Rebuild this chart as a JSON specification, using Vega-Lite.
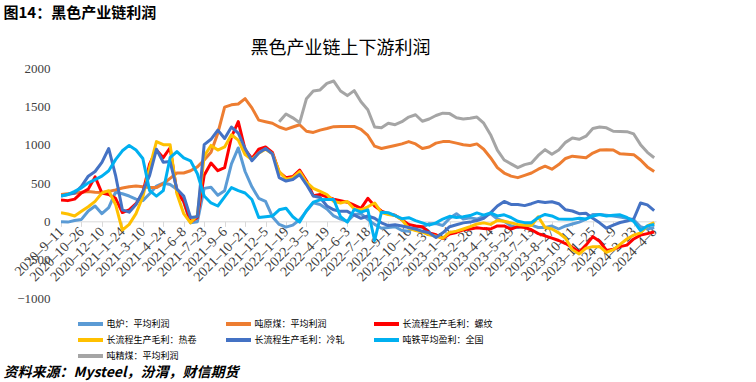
{
"$schema":"https://vega.github.io/schema/vega-lite/v6.json",
"width":595,"height":230,
"autosize":{"type":"none"},
"padding":{"left":61,"top":68,"right":100,"bottom":84},
"background":"white",
"config":{"view":{"stroke":null}},
"title":{"text":"黑色产业链上下游利润","font":"Noto Sans CJK SC","fontSize":18,"fontWeight":"normal","color":"#000000","anchor":"middle","dx":-18,"dy":67,"offset":14},
"data":{"values":[
{"d":"2020-09-11","s":"电炉：平均利润","v":-5},{"d":"2020-09-26","s":"电炉：平均利润","v":-10},{"d":"2020-10-11","s":"电炉：平均利润","v":10},{"d":"2020-10-26","s":"电炉：平均利润","v":25},{"d":"2020-11-10","s":"电炉：平均利润","v":134},{"d":"2020-11-25","s":"电炉：平均利润","v":200},{"d":"2020-12-10","s":"电炉：平均利润","v":100},{"d":"2020-12-25","s":"电炉：平均利润","v":180},{"d":"2021-01-09","s":"电炉：平均利润","v":380},{"d":"2021-01-24","s":"电炉：平均利润","v":360},
{"d":"2021-02-08","s":"电炉：平均利润","v":330},{"d":"2021-02-23","s":"电炉：平均利润","v":290},{"d":"2021-03-10","s":"电炉：平均利润","v":270},{"d":"2021-03-25","s":"电炉：平均利润","v":360},{"d":"2021-04-09","s":"电炉：平均利润","v":460},{"d":"2021-04-24","s":"电炉：平均利润","v":500},{"d":"2021-05-09","s":"电炉：平均利润","v":480},{"d":"2021-05-24","s":"电炉：平均利润","v":420},{"d":"2021-06-08","s":"电炉：平均利润","v":250},{"d":"2021-06-23","s":"电炉：平均利润","v":-20},
{"d":"2021-07-08","s":"电炉：平均利润","v":-5},{"d":"2021-07-23","s":"电炉：平均利润","v":430},{"d":"2021-08-07","s":"电炉：平均利润","v":445},{"d":"2021-08-22","s":"电炉：平均利润","v":340},{"d":"2021-09-06","s":"电炉：平均利润","v":400},{"d":"2021-09-21","s":"电炉：平均利润","v":750},{"d":"2021-10-06","s":"电炉：平均利润","v":957},{"d":"2021-10-21","s":"电炉：平均利润","v":650},{"d":"2021-11-05","s":"电炉：平均利润","v":450},{"d":"2021-11-20","s":"电炉：平均利润","v":300},
{"d":"2021-12-05","s":"电炉：平均利润","v":260},{"d":"2021-12-20","s":"电炉：平均利润","v":60},{"d":"2022-01-04","s":"电炉：平均利润","v":-40},{"d":"2022-01-19","s":"电炉：平均利润","v":-75},{"d":"2022-02-03","s":"电炉：平均利润","v":-50},{"d":"2022-02-18","s":"电炉：平均利润","v":20},{"d":"2022-03-05","s":"电炉：平均利润","v":134},{"d":"2022-03-20","s":"电炉：平均利润","v":242},{"d":"2022-04-04","s":"电炉：平均利润","v":220},{"d":"2022-04-19","s":"电炉：平均利润","v":160},
{"d":"2022-05-04","s":"电炉：平均利润","v":70},{"d":"2022-05-19","s":"电炉：平均利润","v":30},{"d":"2022-06-03","s":"电炉：平均利润","v":0},{"d":"2022-06-18","s":"电炉：平均利润","v":90},{"d":"2022-07-03","s":"电炉：平均利润","v":100},{"d":"2022-07-18","s":"电炉：平均利润","v":26},{"d":"2022-08-02","s":"电炉：平均利润","v":-40},{"d":"2022-08-17","s":"电炉：平均利润","v":-90},{"d":"2022-09-01","s":"电炉：平均利润","v":-80},{"d":"2022-09-16","s":"电炉：平均利润","v":-70},
{"d":"2022-10-01","s":"电炉：平均利润","v":-120},{"d":"2022-10-16","s":"电炉：平均利润","v":-130},{"d":"2022-10-31","s":"电炉：平均利润","v":-65},{"d":"2022-11-15","s":"电炉：平均利润","v":-80},{"d":"2022-11-30","s":"电炉：平均利润","v":-30},{"d":"2022-12-15","s":"电炉：平均利润","v":-30},{"d":"2022-12-30","s":"电炉：平均利润","v":-55},{"d":"2023-01-14","s":"电炉：平均利润","v":40},{"d":"2023-01-29","s":"电炉：平均利润","v":100},{"d":"2023-02-13","s":"电炉：平均利润","v":30},
{"d":"2023-02-28","s":"电炉：平均利润","v":45},{"d":"2023-03-15","s":"电炉：平均利润","v":30},{"d":"2023-03-30","s":"电炉：平均利润","v":65},{"d":"2023-04-14","s":"电炉：平均利润","v":100},{"d":"2023-04-29","s":"电炉：平均利润","v":30},{"d":"2023-05-14","s":"电炉：平均利润","v":0},{"d":"2023-05-29","s":"电炉：平均利润","v":-60},{"d":"2023-06-13","s":"电炉：平均利润","v":-80},{"d":"2023-06-28","s":"电炉：平均利润","v":-50},{"d":"2023-07-13","s":"电炉：平均利润","v":-50},
{"d":"2023-07-28","s":"电炉：平均利润","v":-80},{"d":"2023-08-12","s":"电炉：平均利润","v":-80},{"d":"2023-08-27","s":"电炉：平均利润","v":-61},{"d":"2023-09-11","s":"电炉：平均利润","v":-100},{"d":"2023-09-26","s":"电炉：平均利润","v":-60},{"d":"2023-10-11","s":"电炉：平均利润","v":-35},{"d":"2023-10-26","s":"电炉：平均利润","v":-10},{"d":"2023-11-10","s":"电炉：平均利润","v":30},{"d":"2023-11-25","s":"电炉：平均利润","v":90},{"d":"2023-12-10","s":"电炉：平均利润","v":90},
{"d":"2023-12-25","s":"电炉：平均利润","v":80},{"d":"2024-01-09","s":"电炉：平均利润","v":69},{"d":"2024-01-24","s":"电炉：平均利润","v":55},{"d":"2024-02-08","s":"电炉：平均利润","v":40},{"d":"2024-02-23","s":"电炉：平均利润","v":20},{"d":"2024-03-09","s":"电炉：平均利润","v":-70},{"d":"2024-03-24","s":"电炉：平均利润","v":-100},{"d":"2024-04-08","s":"电炉：平均利润","v":-80},

{"d":"2020-09-11","s":"吨原煤：平均利润","v":350},{"d":"2020-09-26","s":"吨原煤：平均利润","v":360},{"d":"2020-10-11","s":"吨原煤：平均利润","v":365},{"d":"2020-10-26","s":"吨原煤：平均利润","v":380},{"d":"2020-11-10","s":"吨原煤：平均利润","v":390},{"d":"2020-11-25","s":"吨原煤：平均利润","v":380},{"d":"2020-12-10","s":"吨原煤：平均利润","v":375},{"d":"2020-12-25","s":"吨原煤：平均利润","v":390},{"d":"2021-01-09","s":"吨原煤：平均利润","v":410},{"d":"2021-01-24","s":"吨原煤：平均利润","v":435},
{"d":"2021-02-08","s":"吨原煤：平均利润","v":450},{"d":"2021-02-23","s":"吨原煤：平均利润","v":460},{"d":"2021-03-10","s":"吨原煤：平均利润","v":450},{"d":"2021-03-25","s":"吨原煤：平均利润","v":440},{"d":"2021-04-09","s":"吨原煤：平均利润","v":440},{"d":"2021-04-24","s":"吨原煤：平均利润","v":490},{"d":"2021-05-09","s":"吨原煤：平均利润","v":560},{"d":"2021-05-24","s":"吨原煤：平均利润","v":630},{"d":"2021-06-08","s":"吨原煤：平均利润","v":630},{"d":"2021-06-23","s":"吨原煤：平均利润","v":660},
{"d":"2021-07-08","s":"吨原煤：平均利润","v":710},{"d":"2021-07-23","s":"吨原煤：平均利润","v":800},{"d":"2021-08-07","s":"吨原煤：平均利润","v":900},{"d":"2021-08-22","s":"吨原煤：平均利润","v":1150},{"d":"2021-09-06","s":"吨原煤：平均利润","v":1490},{"d":"2021-09-21","s":"吨原煤：平均利润","v":1520},{"d":"2021-10-06","s":"吨原煤：平均利润","v":1530},{"d":"2021-10-21","s":"吨原煤：平均利润","v":1600},{"d":"2021-11-05","s":"吨原煤：平均利润","v":1480},{"d":"2021-11-20","s":"吨原煤：平均利润","v":1320},
{"d":"2021-12-05","s":"吨原煤：平均利润","v":1300},{"d":"2021-12-20","s":"吨原煤：平均利润","v":1280},{"d":"2022-01-04","s":"吨原煤：平均利润","v":1230},{"d":"2022-01-19","s":"吨原煤：平均利润","v":1200},{"d":"2022-02-03","s":"吨原煤：平均利润","v":1230},{"d":"2022-02-18","s":"吨原煤：平均利润","v":1260},{"d":"2022-03-05","s":"吨原煤：平均利润","v":1175},{"d":"2022-03-20","s":"吨原煤：平均利润","v":1160},{"d":"2022-04-04","s":"吨原煤：平均利润","v":1190},{"d":"2022-04-19","s":"吨原煤：平均利润","v":1210},
{"d":"2022-05-04","s":"吨原煤：平均利润","v":1235},{"d":"2022-05-19","s":"吨原煤：平均利润","v":1238},{"d":"2022-06-03","s":"吨原煤：平均利润","v":1238},{"d":"2022-06-18","s":"吨原煤：平均利润","v":1238},{"d":"2022-07-03","s":"吨原煤：平均利润","v":1200},{"d":"2022-07-18","s":"吨原煤：平均利润","v":1120},{"d":"2022-08-02","s":"吨原煤：平均利润","v":980},{"d":"2022-08-17","s":"吨原煤：平均利润","v":950},{"d":"2022-09-01","s":"吨原煤：平均利润","v":970},{"d":"2022-09-16","s":"吨原煤：平均利润","v":990},
{"d":"2022-10-01","s":"吨原煤：平均利润","v":1010},{"d":"2022-10-16","s":"吨原煤：平均利润","v":1040},{"d":"2022-10-31","s":"吨原煤：平均利润","v":1010},{"d":"2022-11-15","s":"吨原煤：平均利润","v":950},{"d":"2022-11-30","s":"吨原煤：平均利润","v":970},{"d":"2022-12-15","s":"吨原煤：平均利润","v":1020},{"d":"2022-12-30","s":"吨原煤：平均利润","v":1040},{"d":"2023-01-14","s":"吨原煤：平均利润","v":1040},{"d":"2023-01-29","s":"吨原煤：平均利润","v":1020},{"d":"2023-02-13","s":"吨原煤：平均利润","v":1000},
{"d":"2023-02-28","s":"吨原煤：平均利润","v":990},{"d":"2023-03-15","s":"吨原煤：平均利润","v":1010},{"d":"2023-03-30","s":"吨原煤：平均利润","v":940},{"d":"2023-04-14","s":"吨原煤：平均利润","v":830},{"d":"2023-04-29","s":"吨原煤：平均利润","v":700},{"d":"2023-05-14","s":"吨原煤：平均利润","v":630},{"d":"2023-05-29","s":"吨原煤：平均利润","v":590},{"d":"2023-06-13","s":"吨原煤：平均利润","v":570},{"d":"2023-06-28","s":"吨原煤：平均利润","v":600},{"d":"2023-07-13","s":"吨原煤：平均利润","v":630},
{"d":"2023-07-28","s":"吨原煤：平均利润","v":680},{"d":"2023-08-12","s":"吨原煤：平均利润","v":720},{"d":"2023-08-27","s":"吨原煤：平均利润","v":680},{"d":"2023-09-11","s":"吨原煤：平均利润","v":740},{"d":"2023-09-26","s":"吨原煤：平均利润","v":820},{"d":"2023-10-11","s":"吨原煤：平均利润","v":850},{"d":"2023-10-26","s":"吨原煤：平均利润","v":840},{"d":"2023-11-10","s":"吨原煤：平均利润","v":830},{"d":"2023-11-25","s":"吨原煤：平均利润","v":890},{"d":"2023-12-10","s":"吨原煤：平均利润","v":930},
{"d":"2023-12-25","s":"吨原煤：平均利润","v":935},{"d":"2024-01-09","s":"吨原煤：平均利润","v":930},{"d":"2024-01-24","s":"吨原煤：平均利润","v":880},{"d":"2024-02-08","s":"吨原煤：平均利润","v":875},{"d":"2024-02-23","s":"吨原煤：平均利润","v":870},{"d":"2024-03-09","s":"吨原煤：平均利润","v":800},{"d":"2024-03-24","s":"吨原煤：平均利润","v":710},{"d":"2024-04-08","s":"吨原煤：平均利润","v":650},

{"d":"2020-09-11","s":"长流程生产毛利：螺纹","v":280},{"d":"2020-09-26","s":"长流程生产毛利：螺纹","v":270},{"d":"2020-10-11","s":"长流程生产毛利：螺纹","v":290},{"d":"2020-10-26","s":"长流程生产毛利：螺纹","v":370},{"d":"2020-11-10","s":"长流程生产毛利：螺纹","v":420},{"d":"2020-11-25","s":"长流程生产毛利：螺纹","v":580},{"d":"2020-12-10","s":"长流程生产毛利：螺纹","v":370},{"d":"2020-12-25","s":"长流程生产毛利：螺纹","v":350},{"d":"2021-01-09","s":"长流程生产毛利：螺纹","v":300},{"d":"2021-01-24","s":"长流程生产毛利：螺纹","v":115},
{"d":"2021-02-08","s":"长流程生产毛利：螺纹","v":150},{"d":"2021-02-23","s":"长流程生产毛利：螺纹","v":230},{"d":"2021-03-10","s":"长流程生产毛利：螺纹","v":370},{"d":"2021-03-25","s":"长流程生产毛利：螺纹","v":750},{"d":"2021-04-09","s":"长流程生产毛利：螺纹","v":930},{"d":"2021-04-24","s":"长流程生产毛利：螺纹","v":830},{"d":"2021-05-09","s":"长流程生产毛利：螺纹","v":960},{"d":"2021-05-24","s":"长流程生产毛利：螺纹","v":380},{"d":"2021-06-08","s":"长流程生产毛利：螺纹","v":260},{"d":"2021-06-23","s":"长流程生产毛利：螺纹","v":-10},
{"d":"2021-07-08","s":"长流程生产毛利：螺纹","v":50},{"d":"2021-07-23","s":"长流程生产毛利：螺纹","v":600},{"d":"2021-08-07","s":"长流程生产毛利：螺纹","v":760},{"d":"2021-08-22","s":"长流程生产毛利：螺纹","v":660},{"d":"2021-09-06","s":"长流程生产毛利：螺纹","v":700},{"d":"2021-09-21","s":"长流程生产毛利：螺纹","v":1100},{"d":"2021-10-06","s":"长流程生产毛利：螺纹","v":1300},{"d":"2021-10-21","s":"长流程生产毛利：螺纹","v":935},{"d":"2021-11-05","s":"长流程生产毛利：螺纹","v":820},{"d":"2021-11-20","s":"长流程生产毛利：螺纹","v":940},
{"d":"2021-12-05","s":"长流程生产毛利：螺纹","v":970},{"d":"2021-12-20","s":"长流程生产毛利：螺纹","v":900},{"d":"2022-01-04","s":"长流程生产毛利：螺纹","v":640},{"d":"2022-01-19","s":"长流程生产毛利：螺纹","v":570},{"d":"2022-02-03","s":"长流程生产毛利：螺纹","v":585},{"d":"2022-02-18","s":"长流程生产毛利：螺纹","v":670},{"d":"2022-03-05","s":"长流程生产毛利：螺纹","v":530},{"d":"2022-03-20","s":"长流程生产毛利：螺纹","v":335},{"d":"2022-04-04","s":"长流程生产毛利：螺纹","v":350},{"d":"2022-04-19","s":"长流程生产毛利：螺纹","v":320},
{"d":"2022-05-04","s":"长流程生产毛利：螺纹","v":290},{"d":"2022-05-19","s":"长流程生产毛利：螺纹","v":270},{"d":"2022-06-03","s":"长流程生产毛利：螺纹","v":250},{"d":"2022-06-18","s":"长流程生产毛利：螺纹","v":210},{"d":"2022-07-03","s":"长流程生产毛利：螺纹","v":170},{"d":"2022-07-18","s":"长流程生产毛利：螺纹","v":300},{"d":"2022-08-02","s":"长流程生产毛利：螺纹","v":200},{"d":"2022-08-17","s":"长流程生产毛利：螺纹","v":134},{"d":"2022-09-01","s":"长流程生产毛利：螺纹","v":100},{"d":"2022-09-16","s":"长流程生产毛利：螺纹","v":80},
{"d":"2022-10-01","s":"长流程生产毛利：螺纹","v":20},{"d":"2022-10-16","s":"长流程生产毛利：螺纹","v":-40},{"d":"2022-10-31","s":"长流程生产毛利：螺纹","v":-61},{"d":"2022-11-15","s":"长流程生产毛利：螺纹","v":-70},{"d":"2022-11-30","s":"长流程生产毛利：螺纹","v":-150},{"d":"2022-12-15","s":"长流程生产毛利：螺纹","v":-175},{"d":"2022-12-30","s":"长流程生产毛利：螺纹","v":-225},{"d":"2023-01-14","s":"长流程生产毛利：螺纹","v":-165},{"d":"2023-01-29","s":"长流程生产毛利：螺纹","v":-145},{"d":"2023-02-13","s":"长流程生产毛利：螺纹","v":-110},
{"d":"2023-02-28","s":"长流程生产毛利：螺纹","v":-100},{"d":"2023-03-15","s":"长流程生产毛利：螺纹","v":-85},{"d":"2023-03-30","s":"长流程生产毛利：螺纹","v":-95},{"d":"2023-04-14","s":"长流程生产毛利：螺纹","v":-100},{"d":"2023-04-29","s":"长流程生产毛利：螺纹","v":-60},{"d":"2023-05-14","s":"长流程生产毛利：螺纹","v":-60},{"d":"2023-05-29","s":"长流程生产毛利：螺纹","v":-100},{"d":"2023-06-13","s":"长流程生产毛利：螺纹","v":-70},{"d":"2023-06-28","s":"长流程生产毛利：螺纹","v":-80},{"d":"2023-07-13","s":"长流程生产毛利：螺纹","v":-110},
{"d":"2023-07-28","s":"长流程生产毛利：螺纹","v":-160},{"d":"2023-08-12","s":"长流程生产毛利：螺纹","v":-190},{"d":"2023-08-27","s":"长流程生产毛利：螺纹","v":-220},{"d":"2023-09-11","s":"长流程生产毛利：螺纹","v":-250},{"d":"2023-09-26","s":"长流程生产毛利：螺纹","v":-290},{"d":"2023-10-11","s":"长流程生产毛利：螺纹","v":-340},{"d":"2023-10-26","s":"长流程生产毛利：螺纹","v":-400},{"d":"2023-11-10","s":"长流程生产毛利：螺纹","v":-310},{"d":"2023-11-25","s":"长流程生产毛利：螺纹","v":-200},{"d":"2023-12-10","s":"长流程生产毛利：螺纹","v":-260},
{"d":"2023-12-25","s":"长流程生产毛利：螺纹","v":-380},{"d":"2024-01-09","s":"长流程生产毛利：螺纹","v":-364},{"d":"2024-01-24","s":"长流程生产毛利：螺纹","v":-330},{"d":"2024-02-08","s":"长流程生产毛利：螺纹","v":-310},{"d":"2024-02-23","s":"长流程生产毛利：螺纹","v":-230},{"d":"2024-03-09","s":"长流程生产毛利：螺纹","v":-180},{"d":"2024-03-24","s":"长流程生产毛利：螺纹","v":-160},{"d":"2024-04-08","s":"长流程生产毛利：螺纹","v":-140},

{"d":"2020-09-11","s":"长流程生产毛利：热卷","v":112},{"d":"2020-09-26","s":"长流程生产毛利：热卷","v":95},{"d":"2020-10-11","s":"长流程生产毛利：热卷","v":70},{"d":"2020-10-26","s":"长流程生产毛利：热卷","v":130},{"d":"2020-11-10","s":"长流程生产毛利：热卷","v":190},{"d":"2020-11-25","s":"长流程生产毛利：热卷","v":260},{"d":"2020-12-10","s":"长流程生产毛利：热卷","v":370},{"d":"2020-12-25","s":"长流程生产毛利：热卷","v":400},{"d":"2021-01-09","s":"长流程生产毛利：热卷","v":220},{"d":"2021-01-24","s":"长流程生产毛利：热卷","v":-115},
{"d":"2021-02-08","s":"长流程生产毛利：热卷","v":-40},{"d":"2021-02-23","s":"长流程生产毛利：热卷","v":100},{"d":"2021-03-10","s":"长流程生产毛利：热卷","v":320},{"d":"2021-03-25","s":"长流程生产毛利：热卷","v":700},{"d":"2021-04-09","s":"长流程生产毛利：热卷","v":1040},{"d":"2021-04-24","s":"长流程生产毛利：热卷","v":1000},{"d":"2021-05-09","s":"长流程生产毛利：热卷","v":1000},{"d":"2021-05-24","s":"长流程生产毛利：热卷","v":360},{"d":"2021-06-08","s":"长流程生产毛利：热卷","v":100},{"d":"2021-06-23","s":"长流程生产毛利：热卷","v":-20},
{"d":"2021-07-08","s":"长流程生产毛利：热卷","v":80},{"d":"2021-07-23","s":"长流程生产毛利：热卷","v":850},{"d":"2021-08-07","s":"长流程生产毛利：热卷","v":990},{"d":"2021-08-22","s":"长流程生产毛利：热卷","v":930},{"d":"2021-09-06","s":"长流程生产毛利：热卷","v":970},{"d":"2021-09-21","s":"长流程生产毛利：热卷","v":1130},{"d":"2021-10-06","s":"长流程生产毛利：热卷","v":1060},{"d":"2021-10-21","s":"长流程生产毛利：热卷","v":870},{"d":"2021-11-05","s":"长流程生产毛利：热卷","v":805},{"d":"2021-11-20","s":"长流程生产毛利：热卷","v":890},
{"d":"2021-12-05","s":"长流程生产毛利：热卷","v":940},{"d":"2021-12-20","s":"长流程生产毛利：热卷","v":880},{"d":"2022-01-04","s":"长流程生产毛利：热卷","v":650},{"d":"2022-01-19","s":"长流程生产毛利：热卷","v":550},{"d":"2022-02-03","s":"长流程生产毛利：热卷","v":570},{"d":"2022-02-18","s":"长流程生产毛利：热卷","v":650},{"d":"2022-03-05","s":"长流程生产毛利：热卷","v":510},{"d":"2022-03-20","s":"长流程生产毛利：热卷","v":430},{"d":"2022-04-04","s":"长流程生产毛利：热卷","v":390},{"d":"2022-04-19","s":"长流程生产毛利：热卷","v":350},
{"d":"2022-05-04","s":"长流程生产毛利：热卷","v":260},{"d":"2022-05-19","s":"长流程生产毛利：热卷","v":240},{"d":"2022-06-03","s":"长流程生产毛利：热卷","v":260},{"d":"2022-06-18","s":"长流程生产毛利：热卷","v":160},{"d":"2022-07-03","s":"长流程生产毛利：热卷","v":150},{"d":"2022-07-18","s":"长流程生产毛利：热卷","v":190},{"d":"2022-08-02","s":"长流程生产毛利：热卷","v":240},{"d":"2022-08-17","s":"长流程生产毛利：热卷","v":115},{"d":"2022-09-01","s":"长流程生产毛利：热卷","v":90},{"d":"2022-09-16","s":"长流程生产毛利：热卷","v":75},
{"d":"2022-10-01","s":"长流程生产毛利：热卷","v":20},{"d":"2022-10-16","s":"长流程生产毛利：热卷","v":-90},{"d":"2022-10-31","s":"长流程生产毛利：热卷","v":-120},{"d":"2022-11-15","s":"长流程生产毛利：热卷","v":-140},{"d":"2022-11-30","s":"长流程生产毛利：热卷","v":-175},{"d":"2022-12-15","s":"长流程生产毛利：热卷","v":-195},{"d":"2022-12-30","s":"长流程生产毛利：热卷","v":-220},{"d":"2023-01-14","s":"长流程生产毛利：热卷","v":-145},{"d":"2023-01-29","s":"长流程生产毛利：热卷","v":-128},{"d":"2023-02-13","s":"长流程生产毛利：热卷","v":-100},
{"d":"2023-02-28","s":"长流程生产毛利：热卷","v":-70},{"d":"2023-03-15","s":"长流程生产毛利：热卷","v":-35},{"d":"2023-03-30","s":"长流程生产毛利：热卷","v":-20},{"d":"2023-04-14","s":"长流程生产毛利：热卷","v":-40},{"d":"2023-04-29","s":"长流程生产毛利：热卷","v":10},{"d":"2023-05-14","s":"长流程生产毛利：热卷","v":0},{"d":"2023-05-29","s":"长流程生产毛利：热卷","v":-20},{"d":"2023-06-13","s":"长流程生产毛利：热卷","v":-40},{"d":"2023-06-28","s":"长流程生产毛利：热卷","v":-50},{"d":"2023-07-13","s":"长流程生产毛利：热卷","v":-55},
{"d":"2023-07-28","s":"长流程生产毛利：热卷","v":60},{"d":"2023-08-12","s":"长流程生产毛利：热卷","v":-80},{"d":"2023-08-27","s":"长流程生产毛利：热卷","v":-100},{"d":"2023-09-11","s":"长流程生产毛利：热卷","v":-150},{"d":"2023-09-26","s":"长流程生产毛利：热卷","v":-220},{"d":"2023-10-11","s":"长流程生产毛利：热卷","v":-370},{"d":"2023-10-26","s":"长流程生产毛利：热卷","v":-425},{"d":"2023-11-10","s":"长流程生产毛利：热卷","v":-350},{"d":"2023-11-25","s":"长流程生产毛利：热卷","v":-330},{"d":"2023-12-10","s":"长流程生产毛利：热卷","v":-330},
{"d":"2023-12-25","s":"长流程生产毛利：热卷","v":-405},{"d":"2024-01-09","s":"长流程生产毛利：热卷","v":-370},{"d":"2024-01-24","s":"长流程生产毛利：热卷","v":-300},{"d":"2024-02-08","s":"长流程生产毛利：热卷","v":-230},{"d":"2024-02-23","s":"长流程生产毛利：热卷","v":-180},{"d":"2024-03-09","s":"长流程生产毛利：热卷","v":-150},{"d":"2024-03-24","s":"长流程生产毛利：热卷","v":-60},{"d":"2024-04-08","s":"长流程生产毛利：热卷","v":-15},

{"d":"2020-09-11","s":"长流程生产毛利：冷轧","v":329},{"d":"2020-09-26","s":"长流程生产毛利：冷轧","v":350},{"d":"2020-10-11","s":"长流程生产毛利：冷轧","v":370},{"d":"2020-10-26","s":"长流程生产毛利：冷轧","v":455},{"d":"2020-11-10","s":"长流程生产毛利：冷轧","v":589},{"d":"2020-11-25","s":"长流程生产毛利：冷轧","v":650},{"d":"2020-12-10","s":"长流程生产毛利：冷轧","v":770},{"d":"2020-12-25","s":"长流程生产毛利：冷轧","v":950},{"d":"2021-01-09","s":"长流程生产毛利：冷轧","v":600},{"d":"2021-01-24","s":"长流程生产毛利：冷轧","v":150},
{"d":"2021-02-08","s":"长流程生产毛利：冷轧","v":120},{"d":"2021-02-23","s":"长流程生产毛利：冷轧","v":220},{"d":"2021-03-10","s":"长流程生产毛利：冷轧","v":390},{"d":"2021-03-25","s":"长流程生产毛利：冷轧","v":600},{"d":"2021-04-09","s":"长流程生产毛利：冷轧","v":940},{"d":"2021-04-24","s":"长流程生产毛利：冷轧","v":770},{"d":"2021-05-09","s":"长流程生产毛利：冷轧","v":780},{"d":"2021-05-24","s":"长流程生产毛利：冷轧","v":420},{"d":"2021-06-08","s":"长流程生产毛利：冷轧","v":330},{"d":"2021-06-23","s":"长流程生产毛利：冷轧","v":50},
{"d":"2021-07-08","s":"长流程生产毛利：冷轧","v":60},{"d":"2021-07-23","s":"长流程生产毛利：冷轧","v":1000},{"d":"2021-08-07","s":"长流程生产毛利：冷轧","v":1070},{"d":"2021-08-22","s":"长流程生产毛利：冷轧","v":1190},{"d":"2021-09-06","s":"长流程生产毛利：冷轧","v":1080},{"d":"2021-09-21","s":"长流程生产毛利：冷轧","v":1230},{"d":"2021-10-06","s":"长流程生产毛利：冷轧","v":1150},{"d":"2021-10-21","s":"长流程生产毛利：冷轧","v":950},{"d":"2021-11-05","s":"长流程生产毛利：冷轧","v":790},{"d":"2021-11-20","s":"长流程生产毛利：冷轧","v":890},
{"d":"2021-12-05","s":"长流程生产毛利：冷轧","v":950},{"d":"2021-12-20","s":"长流程生产毛利：冷轧","v":880},{"d":"2022-01-04","s":"长流程生产毛利：冷轧","v":570},{"d":"2022-01-19","s":"长流程生产毛利：冷轧","v":525},{"d":"2022-02-03","s":"长流程生产毛利：冷轧","v":545},{"d":"2022-02-18","s":"长流程生产毛利：冷轧","v":610},{"d":"2022-03-05","s":"长流程生产毛利：冷轧","v":480},{"d":"2022-03-20","s":"长流程生产毛利：冷轧","v":330},{"d":"2022-04-04","s":"长流程生产毛利：冷轧","v":310},{"d":"2022-04-19","s":"长流程生产毛利：冷轧","v":200},
{"d":"2022-05-04","s":"长流程生产毛利：冷轧","v":150},{"d":"2022-05-19","s":"长流程生产毛利：冷轧","v":130},{"d":"2022-06-03","s":"长流程生产毛利：冷轧","v":130},{"d":"2022-06-18","s":"长流程生产毛利：冷轧","v":80},{"d":"2022-07-03","s":"长流程生产毛利：冷轧","v":40},{"d":"2022-07-18","s":"长流程生产毛利：冷轧","v":70},{"d":"2022-08-02","s":"长流程生产毛利：冷轧","v":40},{"d":"2022-08-17","s":"长流程生产毛利：冷轧","v":-20},{"d":"2022-09-01","s":"长流程生产毛利：冷轧","v":-55},{"d":"2022-09-16","s":"长流程生产毛利：冷轧","v":-45},
{"d":"2022-10-01","s":"长流程生产毛利：冷轧","v":-60},{"d":"2022-10-16","s":"长流程生产毛利：冷轧","v":-80},{"d":"2022-10-31","s":"长流程生产毛利：冷轧","v":-100},{"d":"2022-11-15","s":"长流程生产毛利：冷轧","v":-130},{"d":"2022-11-30","s":"长流程生产毛利：冷轧","v":-150},{"d":"2022-12-15","s":"长流程生产毛利：冷轧","v":-210},{"d":"2022-12-30","s":"长流程生产毛利：冷轧","v":-150},{"d":"2023-01-14","s":"长流程生产毛利：冷轧","v":-70},{"d":"2023-01-29","s":"长流程生产毛利：冷轧","v":-45},{"d":"2023-02-13","s":"长流程生产毛利：冷轧","v":-20},
{"d":"2023-02-28","s":"长流程生产毛利：冷轧","v":-10},{"d":"2023-03-15","s":"长流程生产毛利：冷轧","v":10},{"d":"2023-03-30","s":"长流程生产毛利：冷轧","v":40},{"d":"2023-04-14","s":"长流程生产毛利：冷轧","v":110},{"d":"2023-04-29","s":"长流程生产毛利：冷轧","v":200},{"d":"2023-05-14","s":"长流程生产毛利：冷轧","v":260},{"d":"2023-05-29","s":"长流程生产毛利：冷轧","v":220},{"d":"2023-06-13","s":"长流程生产毛利：冷轧","v":220},{"d":"2023-06-28","s":"长流程生产毛利：冷轧","v":205},{"d":"2023-07-13","s":"长流程生产毛利：冷轧","v":230},
{"d":"2023-07-28","s":"长流程生产毛利：冷轧","v":260},{"d":"2023-08-12","s":"长流程生产毛利：冷轧","v":245},{"d":"2023-08-27","s":"长流程生产毛利：冷轧","v":255},{"d":"2023-09-11","s":"长流程生产毛利：冷轧","v":230},{"d":"2023-09-26","s":"长流程生产毛利：冷轧","v":150},{"d":"2023-10-11","s":"长流程生产毛利：冷轧","v":135},{"d":"2023-10-26","s":"长流程生产毛利：冷轧","v":100},{"d":"2023-11-10","s":"长流程生产毛利：冷轧","v":105},{"d":"2023-11-25","s":"长流程生产毛利：冷轧","v":40},{"d":"2023-12-10","s":"长流程生产毛利：冷轧","v":-20},
{"d":"2023-12-25","s":"长流程生产毛利：冷轧","v":-90},{"d":"2024-01-09","s":"长流程生产毛利：冷轧","v":-50},{"d":"2024-01-24","s":"长流程生产毛利：冷轧","v":-15},{"d":"2024-02-08","s":"长流程生产毛利：冷轧","v":5},{"d":"2024-02-23","s":"长流程生产毛利：冷轧","v":30},{"d":"2024-03-09","s":"长流程生产毛利：冷轧","v":240},{"d":"2024-03-24","s":"长流程生产毛利：冷轧","v":215},{"d":"2024-04-08","s":"长流程生产毛利：冷轧","v":140},

{"d":"2020-09-11","s":"吨铁平均盈利：全国","v":329},{"d":"2020-09-26","s":"吨铁平均盈利：全国","v":350},{"d":"2020-10-11","s":"吨铁平均盈利：全国","v":390},{"d":"2020-10-26","s":"吨铁平均盈利：全国","v":437},{"d":"2020-11-10","s":"吨铁平均盈利：全国","v":502},{"d":"2020-11-25","s":"吨铁平均盈利：全国","v":545},{"d":"2020-12-10","s":"吨铁平均盈利：全国","v":590},{"d":"2020-12-25","s":"吨铁平均盈利：全国","v":660},{"d":"2021-01-09","s":"吨铁平均盈利：全国","v":805},{"d":"2021-01-24","s":"吨铁平均盈利：全国","v":920},
{"d":"2021-02-08","s":"吨铁平均盈利：全国","v":990},{"d":"2021-02-23","s":"吨铁平均盈利：全国","v":930},{"d":"2021-03-10","s":"吨铁平均盈利：全国","v":820},{"d":"2021-03-25","s":"吨铁平均盈利：全国","v":400},{"d":"2021-04-09","s":"吨铁平均盈利：全国","v":329},{"d":"2021-04-24","s":"吨铁平均盈利：全国","v":400},{"d":"2021-05-09","s":"吨铁平均盈利：全国","v":830},{"d":"2021-05-24","s":"吨铁平均盈利：全国","v":910},{"d":"2021-06-08","s":"吨铁平均盈利：全国","v":827},{"d":"2021-06-23","s":"吨铁平均盈利：全国","v":790},
{"d":"2021-07-08","s":"吨铁平均盈利：全国","v":620},{"d":"2021-07-23","s":"吨铁平均盈利：全国","v":330},{"d":"2021-08-07","s":"吨铁平均盈利：全国","v":240},{"d":"2021-08-22","s":"吨铁平均盈利：全国","v":200},{"d":"2021-09-06","s":"吨铁平均盈利：全国","v":320},{"d":"2021-09-21","s":"吨铁平均盈利：全国","v":440},{"d":"2021-10-06","s":"吨铁平均盈利：全国","v":400},{"d":"2021-10-21","s":"吨铁平均盈利：全国","v":370},{"d":"2021-11-05","s":"吨铁平均盈利：全国","v":285},{"d":"2021-11-20","s":"吨铁平均盈利：全国","v":50},
{"d":"2021-12-05","s":"吨铁平均盈利：全国","v":60},{"d":"2021-12-20","s":"吨铁平均盈利：全国","v":69},{"d":"2022-01-04","s":"吨铁平均盈利：全国","v":150},{"d":"2022-01-19","s":"吨铁平均盈利：全国","v":170},{"d":"2022-02-03","s":"吨铁平均盈利：全国","v":60},{"d":"2022-02-18","s":"吨铁平均盈利：全国","v":-10},{"d":"2022-03-05","s":"吨铁平均盈利：全国","v":140},{"d":"2022-03-20","s":"吨铁平均盈利：全国","v":250},{"d":"2022-04-04","s":"吨铁平均盈利：全国","v":280},{"d":"2022-04-19","s":"吨铁平均盈利：全国","v":285},
{"d":"2022-05-04","s":"吨铁平均盈利：全国","v":285},{"d":"2022-05-19","s":"吨铁平均盈利：全国","v":60},{"d":"2022-06-03","s":"吨铁平均盈利：全国","v":-10},{"d":"2022-06-18","s":"吨铁平均盈利：全国","v":155},{"d":"2022-07-03","s":"吨铁平均盈利：全国","v":120},{"d":"2022-07-18","s":"吨铁平均盈利：全国","v":150},{"d":"2022-08-02","s":"吨铁平均盈利：全国","v":-250},{"d":"2022-08-17","s":"吨铁平均盈利：全国","v":120},{"d":"2022-09-01","s":"吨铁平均盈利：全国","v":112},{"d":"2022-09-16","s":"吨铁平均盈利：全国","v":75},
{"d":"2022-10-01","s":"吨铁平均盈利：全国","v":35},{"d":"2022-10-16","s":"吨铁平均盈利：全国","v":48},{"d":"2022-10-31","s":"吨铁平均盈利：全国","v":10},{"d":"2022-11-15","s":"吨铁平均盈利：全国","v":-20},{"d":"2022-11-30","s":"吨铁平均盈利：全国","v":-50},{"d":"2022-12-15","s":"吨铁平均盈利：全国","v":-20},{"d":"2022-12-30","s":"吨铁平均盈利：全国","v":30},{"d":"2023-01-14","s":"吨铁平均盈利：全国","v":65},{"d":"2023-01-29","s":"吨铁平均盈利：全国","v":50},{"d":"2023-02-13","s":"吨铁平均盈利：全国","v":60},
{"d":"2023-02-28","s":"吨铁平均盈利：全国","v":75},{"d":"2023-03-15","s":"吨铁平均盈利：全国","v":110},{"d":"2023-03-30","s":"吨铁平均盈利：全国","v":80},{"d":"2023-04-14","s":"吨铁平均盈利：全国","v":110},{"d":"2023-04-29","s":"吨铁平均盈利：全国","v":70},{"d":"2023-05-14","s":"吨铁平均盈利：全国","v":85},{"d":"2023-05-29","s":"吨铁平均盈利：全国","v":50},{"d":"2023-06-13","s":"吨铁平均盈利：全国","v":0},{"d":"2023-06-28","s":"吨铁平均盈利：全国","v":-17},{"d":"2023-07-13","s":"吨铁平均盈利：全国","v":-17},
{"d":"2023-07-28","s":"吨铁平均盈利：全国","v":50},{"d":"2023-08-12","s":"吨铁平均盈利：全国","v":90},{"d":"2023-08-27","s":"吨铁平均盈利：全国","v":70},{"d":"2023-09-11","s":"吨铁平均盈利：全国","v":30},{"d":"2023-09-26","s":"吨铁平均盈利：全国","v":26},{"d":"2023-10-11","s":"吨铁平均盈利：全国","v":26},{"d":"2023-10-26","s":"吨铁平均盈利：全国","v":40},{"d":"2023-11-10","s":"吨铁平均盈利：全国","v":30},{"d":"2023-11-25","s":"吨铁平均盈利：全国","v":70},{"d":"2023-12-10","s":"吨铁平均盈利：全国","v":90},
{"d":"2023-12-25","s":"吨铁平均盈利：全国","v":70},{"d":"2024-01-09","s":"吨铁平均盈利：全国","v":80},{"d":"2024-01-24","s":"吨铁平均盈利：全国","v":85},{"d":"2024-02-08","s":"吨铁平均盈利：全国","v":50},{"d":"2024-02-23","s":"吨铁平均盈利：全国","v":0},{"d":"2024-03-09","s":"吨铁平均盈利：全国","v":-120},{"d":"2024-03-24","s":"吨铁平均盈利：全国","v":-60},{"d":"2024-04-08","s":"吨铁平均盈利：全国","v":-40},

{"d":"2022-01-04","s":"吨精煤：平均利润","v":1300},{"d":"2022-01-19","s":"吨精煤：平均利润","v":1400},{"d":"2022-02-03","s":"吨精煤：平均利润","v":1350},{"d":"2022-02-18","s":"吨精煤：平均利润","v":1285},{"d":"2022-03-05","s":"吨精煤：平均利润","v":1600},{"d":"2022-03-20","s":"吨精煤：平均利润","v":1700},{"d":"2022-04-04","s":"吨精煤：平均利润","v":1714},{"d":"2022-04-19","s":"吨精煤：平均利润","v":1800},{"d":"2022-05-04","s":"吨精煤：平均利润","v":1830},{"d":"2022-05-19","s":"吨精煤：平均利润","v":1700},
{"d":"2022-06-03","s":"吨精煤：平均利润","v":1640},{"d":"2022-06-18","s":"吨精煤：平均利润","v":1705},{"d":"2022-07-03","s":"吨精煤：平均利润","v":1560},{"d":"2022-07-18","s":"吨精煤：平均利润","v":1455},{"d":"2022-08-02","s":"吨精煤：平均利润","v":1230},{"d":"2022-08-17","s":"吨精煤：平均利润","v":1220},{"d":"2022-09-01","s":"吨精煤：平均利润","v":1280},{"d":"2022-09-16","s":"吨精煤：平均利润","v":1260},{"d":"2022-10-01","s":"吨精煤：平均利润","v":1300},{"d":"2022-10-16","s":"吨精煤：平均利润","v":1360},
{"d":"2022-10-31","s":"吨精煤：平均利润","v":1390},{"d":"2022-11-15","s":"吨精煤：平均利润","v":1305},{"d":"2022-11-30","s":"吨精煤：平均利润","v":1335},{"d":"2022-12-15","s":"吨精煤：平均利润","v":1380},{"d":"2022-12-30","s":"吨精煤：平均利润","v":1411},{"d":"2023-01-14","s":"吨精煤：平均利润","v":1405},{"d":"2023-01-29","s":"吨精煤：平均利润","v":1350},{"d":"2023-02-13","s":"吨精煤：平均利润","v":1335},{"d":"2023-02-28","s":"吨精煤：平均利润","v":1345},{"d":"2023-03-15","s":"吨精煤：平均利润","v":1360},
{"d":"2023-03-30","s":"吨精煤：平均利润","v":1280},{"d":"2023-04-14","s":"吨精煤：平均利润","v":1130},{"d":"2023-04-29","s":"吨精煤：平均利润","v":930},{"d":"2023-05-14","s":"吨精煤：平均利润","v":800},{"d":"2023-05-29","s":"吨精煤：平均利润","v":750},{"d":"2023-06-13","s":"吨精煤：平均利润","v":700},{"d":"2023-06-28","s":"吨精煤：平均利润","v":740},{"d":"2023-07-13","s":"吨精煤：平均利润","v":760},{"d":"2023-07-28","s":"吨精煤：平均利润","v":860},{"d":"2023-08-12","s":"吨精煤：平均利润","v":935},
{"d":"2023-08-27","s":"吨精煤：平均利润","v":875},{"d":"2023-09-11","s":"吨精煤：平均利润","v":930},{"d":"2023-09-26","s":"吨精煤：平均利润","v":1030},{"d":"2023-10-11","s":"吨精煤：平均利润","v":1087},{"d":"2023-10-26","s":"吨精煤：平均利润","v":1070},{"d":"2023-11-10","s":"吨精煤：平均利润","v":1110},{"d":"2023-11-25","s":"吨精煤：平均利润","v":1210},{"d":"2023-12-10","s":"吨精煤：平均利润","v":1230},{"d":"2023-12-25","s":"吨精煤：平均利润","v":1220},{"d":"2024-01-09","s":"吨精煤：平均利润","v":1175},
{"d":"2024-01-24","s":"吨精煤：平均利润","v":1173},{"d":"2024-02-08","s":"吨精煤：平均利润","v":1170},{"d":"2024-02-23","s":"吨精煤：平均利润","v":1140},{"d":"2024-03-09","s":"吨精煤：平均利润","v":1000},{"d":"2024-03-24","s":"吨精煤：平均利润","v":900},{"d":"2024-04-08","s":"吨精煤：平均利润","v":830}
]},
"mark":{"type":"line","strokeWidth":3,"strokeJoin":"round","clip":true},
"encoding":{
"x":{"field":"d","type":"temporal",
"scale":{"type":"utc","domain":[{"year":2020,"month":9,"date":11,"utc":true},{"year":2024,"month":4,"date":12,"utc":true}]},
"axis":{"offset":-76.67,"grid":false,"labelAngle":-45,"labelAlign":"right","labelBaseline":"middle","labelFlush":false,"labelOverlap":false,"labelPadding":3,
"labelExpr":"utcFormat(datum.value, '%Y–%-m–%-d')","labelFont":"Liberation Serif","labelFontSize":14,"labelColor":"#404040",
"domainColor":"#D9D9D9","tickColor":"#D9D9D9","tickSize":5,
"values":[{"year":2020,"month":9,"date":11,"utc":true},{"year":2020,"month":10,"date":26,"utc":true},{"year":2020,"month":12,"date":10,"utc":true},{"year":2021,"month":1,"date":24,"utc":true},{"year":2021,"month":3,"date":10,"utc":true},{"year":2021,"month":4,"date":24,"utc":true},{"year":2021,"month":6,"date":8,"utc":true},{"year":2021,"month":7,"date":23,"utc":true},{"year":2021,"month":9,"date":6,"utc":true},{"year":2021,"month":10,"date":21,"utc":true},{"year":2021,"month":12,"date":5,"utc":true},{"year":2022,"month":1,"date":19,"utc":true},{"year":2022,"month":3,"date":5,"utc":true},{"year":2022,"month":4,"date":19,"utc":true},{"year":2022,"month":6,"date":3,"utc":true},{"year":2022,"month":7,"date":18,"utc":true},{"year":2022,"month":9,"date":1,"utc":true},{"year":2022,"month":10,"date":16,"utc":true},{"year":2022,"month":11,"date":30,"utc":true},{"year":2023,"month":1,"date":14,"utc":true},{"year":2023,"month":2,"date":28,"utc":true},{"year":2023,"month":4,"date":14,"utc":true},{"year":2023,"month":5,"date":29,"utc":true},{"year":2023,"month":7,"date":13,"utc":true},{"year":2023,"month":8,"date":27,"utc":true},{"year":2023,"month":10,"date":11,"utc":true},{"year":2023,"month":11,"date":25,"utc":true},{"year":2024,"month":1,"date":9,"utc":true},{"year":2024,"month":2,"date":23,"utc":true},{"year":2024,"month":4,"date":8,"utc":true}],
"title":"资料来源：Mysteel，汾渭，财信期货","titleX":-58,"titleY":151,"titleAlign":"left","titleBaseline":"middle","titleFont":"Noto Sans CJK SC","titleFontSize":14,"titleFontWeight":"bold","titleFontStyle":"italic","titleColor":"#000000"}},
"y":{"field":"v","type":"quantitative",
"scale":{"domain":[-1000,2000],"nice":false,"zero":false},
"axis":{"values":[-1000,-500,0,500,1000,1500,2000],"format":"d","labelOverlap":false,"domain":false,"ticks":false,"grid":false,"labelFont":"Liberation Serif","labelFontSize":13,"labelColor":"#404040","labelPadding":11,
"title":"图14：黑色产业链利润","titleAngle":0,"titleX":-58,"titleY":-56,"titleAlign":"left","titleBaseline":"middle","titleFont":"Noto Sans CJK SC","titleFontSize":15,"titleFontWeight":"bold","titleColor":"#000000"}},
"color":{"field":"s","type":"nominal",
"scale":{"domain":["电炉：平均利润","吨原煤：平均利润","长流程生产毛利：螺纹","长流程生产毛利：热卷","长流程生产毛利：冷轧","吨铁平均盈利：全国","吨精煤：平均利润"],
"range":["#5B9BD5","#ED7D31","#FF0000","#FFC000","#4472C4","#00B0F0","#A5A5A5"]},
"legend":{"orient":"none","legendX":22.5,"legendY":249,"direction":"horizontal","columns":3,"title":null,
"symbolType":"M-2.5,0H2.5","symbolSize":100,"symbolStrokeWidth":4,"labelFont":"Noto Sans CJK SC","labelFontSize":9,"labelColor":"#000000","labelOffset":9,"columnPadding":20,"rowPadding":0,"padding":0}}
}
}
